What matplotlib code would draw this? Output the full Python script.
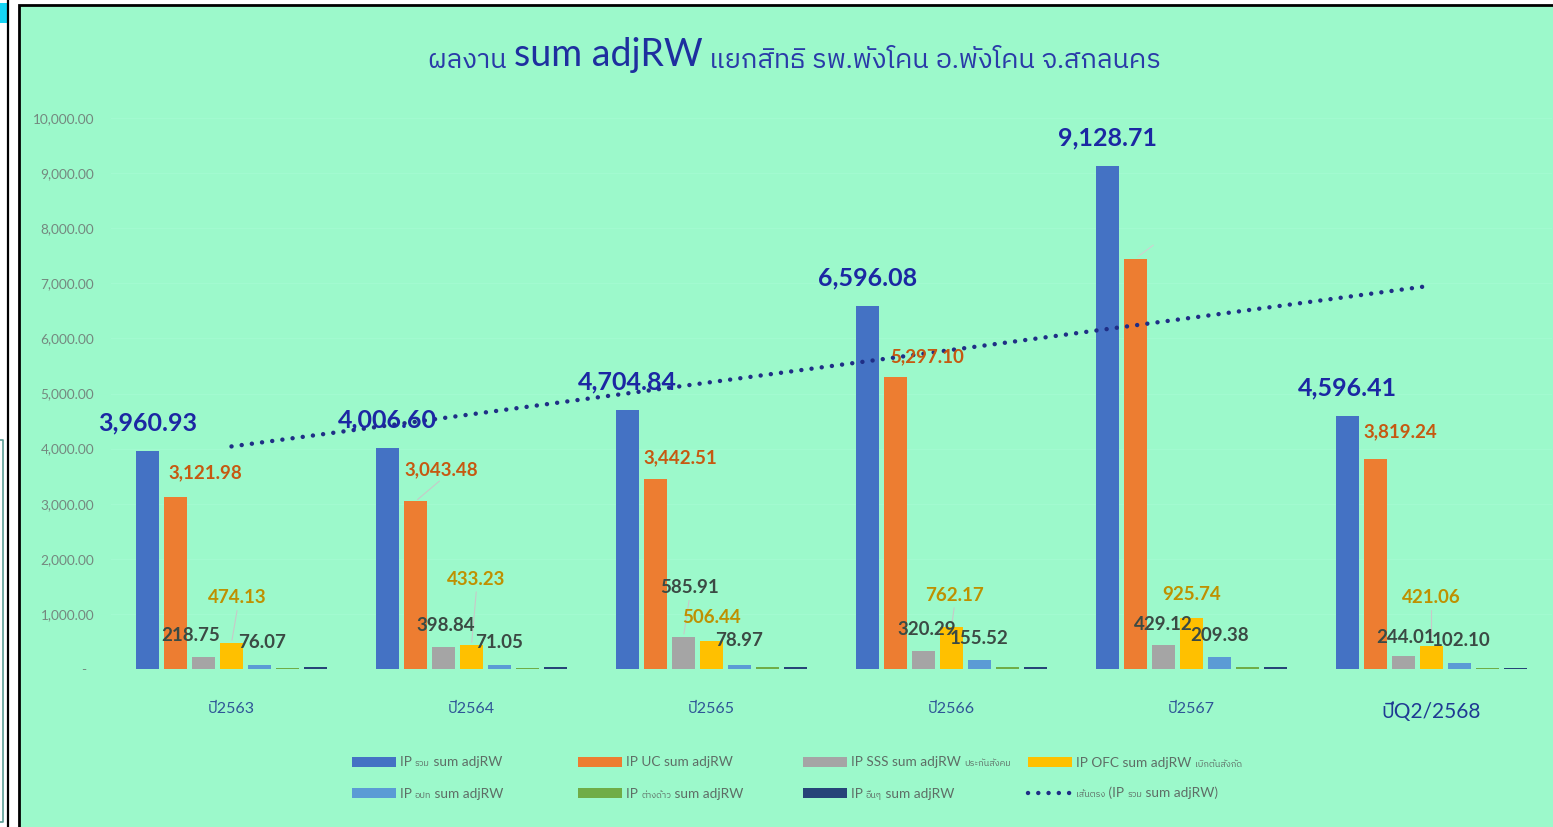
import numpy as np
import matplotlib
matplotlib.use("Agg")
import matplotlib.pyplot as plt
from matplotlib import font_manager
from matplotlib.ft2font import FT2Font
from matplotlib.patches import Rectangle, Patch
from matplotlib.lines import Line2D
from matplotlib.text import Annotation

# ---- data -------------------------------------------------------------
years = ["ปี2563", "ปี2564", "ปี2565", "ปี2566", "ปี2567", "ปีQ2/2568"]
ip_total = [3960.93, 4006.60, 4704.84, 6596.08, 9128.71, 4596.41]
ip_uc = [3121.98, 3043.48, 3442.51, 5297.10, 7450.00, 3819.24]
ip_sss = [218.75, 398.84, 585.91, 320.29, 429.12, 244.01]
ip_ofc = [474.13, 433.23, 506.44, 762.17, 925.74, 421.06]
ip_lgo = [76.07, 71.05, 78.97, 155.52, 209.38, 102.10]
ip_alien = [12.0, 15.0, 30.0, 40.0, 30.0, 10.0]
ip_other = [45.0, 45.0, 40.0, 45.0, 45.0, 20.0]

# legend labels, split into (text, is_small) pieces like the original
legend_parts = [
    [("IP ", False), ("รวม", True), (" sum adjRW", False)],
    [("IP UC sum adjRW", False)],
    [("IP SSS sum adjRW ", False), ("ประกันสังคม", True)],
    [("IP OFC sum adjRW ", False), ("เบิกต้นสังกัด", True)],
    [("IP ", False), ("อปท", True), (" sum adjRW", False)],
    [("IP ", False), ("ต่างด้าว", True), (" sum adjRW", False)],
    [("IP ", False), ("อื่นๆ", True), (" sum adjRW", False)],
    [("เส้นตรง", True), (" (IP ", False), ("รวม", True), (" sum adjRW)", False)],
]
colors = ["#4472C4", "#ED7D31", "#A5A5A5", "#FFC000", "#5B9BD5", "#70AD47", "#264478"]

W, H = 1553, 827
BG = "#9CF9CB"


def find_thai_font():
    entries = sorted(font_manager.fontManager.ttflist,
                     key=lambda f: (0 if "thai" in f.name.lower() else 1, f.name))
    for f in entries:
        try:
            cmap = FT2Font(f.fname).get_charmap()
        except Exception:
            continue
        if 0x0E1B in cmap and 0x0E35 in cmap:
            return f.name
    return None


thai = find_thai_font()
plt.rcParams["font.family"] = ["Lato"] + ([thai] if thai else []) + ["DejaVu Sans"]


def px_x(v):
    return v / W


def px_y(v):
    return 1 - v / H


fig = plt.figure(figsize=(W / 100, H / 100), dpi=100, facecolor="white")

# screenshot frame bits
fig.patches.append(Rectangle((px_x(19), px_y(830)), px_x(1560 - 19), (830 - 5) / H,
                             transform=fig.transFigure, facecolor=BG,
                             edgecolor="black", linewidth=2, zorder=-2))
fig.patches.append(Rectangle((0, px_y(23)), px_x(8), 20 / H, transform=fig.transFigure,
                             facecolor="#14D4F4", edgecolor="none", zorder=-2))
fig.add_artist(Line2D([px_x(8), px_x(8)], [0, 1], transform=fig.transFigure,
                      color="black", lw=1.6, zorder=-1))
fig.add_artist(Line2D([0, px_x(3), px_x(3), 0], [px_y(440), px_y(440), px_y(822), px_y(822)],
                      transform=fig.transFigure, color="#5A9C94", lw=1.2, zorder=-1))

ax = fig.add_axes([px_x(111.5), px_y(669), px_x(1440), 551 / H])
ax.set_facecolor("none")

x = np.arange(len(years))
slot = 28 / 240
bw = 23 / 240
all_series = [ip_total, ip_uc, ip_sss, ip_ofc, ip_lgo, ip_alien, ip_other]
for k, vals in enumerate(all_series):
    ax.bar(x + (k - 3) * slot, vals, width=bw, color=colors[k], zorder=2)

# linear trendline of the total series
coef = np.polyfit(x + 1, ip_total, 1)
trend = np.polyval(coef, x + 1)
dotted = (0, (0.01, 2.3))
ax.plot(x, trend, color="#1F2E86", lw=3.2, linestyle=dotted,
        dash_capstyle="round", zorder=4)

ax.set_xlim(-0.5, 5.5)
ax.set_ylim(0, 10000)
ax.set_yticks(np.arange(0, 10001, 1000))
ax.set_yticklabels(["-  "] + [f"{v:,.2f}" for v in range(1000, 10001, 1000)],
                   fontsize=9.8, color="#74887F")
ax.set_xticks(x)
ax.set_xticklabels(years, fontsize=11.5, color="#2F5597")
lbl = ax.get_xticklabels()[-1]
lbl.set_fontsize(15)
lbl.set_color("#1F3A93")
ax.tick_params(axis="both", length=0)
ax.tick_params(axis="y", pad=12.5)
ax.tick_params(axis="x", pad=24)
for s in ax.spines.values():
    s.set_visible(False)
ax.grid(axis="y", color="#A2FAD0", lw=0.8, zorder=0)
ax.set_axisbelow(True)

# ---- data labels -----------------------------------------------------
for i, v in enumerate(ip_total):
    ax.annotate(f"{v:,.2f}", (x[i] - 3 * slot, v), xytext=(0, 28),
                textcoords="offset pixels", ha="center", va="center",
                fontsize=18, fontweight="bold", color="#1C27A3", zorder=5)

uc_off = [(30, 24), (26, 32), (25, 22), (32, 20), None, (25, 27)]
ofc_off = [(6, 45), (5, 66), (0, 24), (3, 32), (0, 23), (0, 48)]
sss_off = [(-13, 21), (2, 22), (6, 49), (3, 22), (0, 21), (2, 18)]
lgo_off = [(3, 22), (0, 23), (0, 24), (0, 22), (0, 22), (2, 23)]


def put_labels(vals, k, offs, color):
    for i, v in enumerate(vals):
        if offs[i] is None:
            continue
        dx, dy = offs[i]
        ax.annotate(f"{v:,.2f}", (x[i] + (k - 3) * slot, v), xytext=(dx, dy),
                    textcoords="offset pixels", ha="center", va="center",
                    fontsize=13.5, fontweight="bold", color=color, zorder=5)
        if dy > 30:
            ax.annotate("", (x[i] + (k - 3) * slot, v), xytext=(dx, dy - 10),
                        textcoords="offset pixels",
                        arrowprops=dict(arrowstyle="-", color="#C8C8C8", lw=0.8),
                        zorder=3)


put_labels(ip_uc, 1, uc_off, "#C65911")
put_labels(ip_ofc, 3, ofc_off, "#BF9000")
put_labels(ip_sss, 2, sss_off, "#3B4A44")
put_labels(ip_lgo, 4, lgo_off, "#3B4A44")
# leader line of the hidden 2567 UC label
ax.annotate("", (x[4] - 2 * slot, ip_uc[4]), xytext=(20, 15), textcoords="offset pixels",
            arrowprops=dict(arrowstyle="-", color="#D0D0D0", lw=0.8))

# ---- title -----------------------------------------------------------
t1 = fig.text(px_x(428), px_y(68), "ผลงาน ", fontsize=19.5, color="#2A3AA8", va="baseline")
t2 = ax.annotate("sum adjRW", xycoords=t1, xy=(1, 0), va="bottom", fontsize=27,
                 color="#1E2F9F", annotation_clip=False)
t3 = ax.annotate(" แยกสิทธิ รพ.พังโคน อ.พังโคน จ.สกลนคร", xycoords=t2, xy=(1, 0),
                 va="bottom", fontsize=19.5, color="#2A3AA8", annotation_clip=False)

# ---- legend ----------------------------------------------------------
handles = [Patch(facecolor=c, edgecolor="none") for c in colors]
handles.append(Line2D([0], [0], color="#1F2E86", lw=3.2, linestyle=dotted,
                      dash_capstyle="round"))
leg_color = "#5E6E66"
col_x = [352, 578, 803, 1028]
for j in range(4):
    pair = [legend_parts[j], legend_parts[j + 4]]
    leg = fig.legend([handles[j], handles[j + 4]], [p[0][0] for p in pair],
                     loc="center left", bbox_to_anchor=(px_x(col_x[j]), px_y(778)),
                     frameon=False, fontsize=9.8, handlelength=3.2, handleheight=0.75,
                     handletextpad=0.3, labelspacing=1.4, borderpad=0, borderaxespad=0)
    for txt, parts in zip(leg.get_texts(), pair):
        txt.set_color(leg_color)
        if parts[0][1]:
            txt.set_fontsize(6.5)
        prev = txt
        for piece, small in parts[1:]:
            prev = fig.add_artist(Annotation(
                piece, xy=(1, 0), xycoords=prev, va="bottom",
                fontsize=6.5 if small else 9.8, color=leg_color))
            prev.set_zorder(10)

fig.savefig("out.png", dpi=100, facecolor="white")
